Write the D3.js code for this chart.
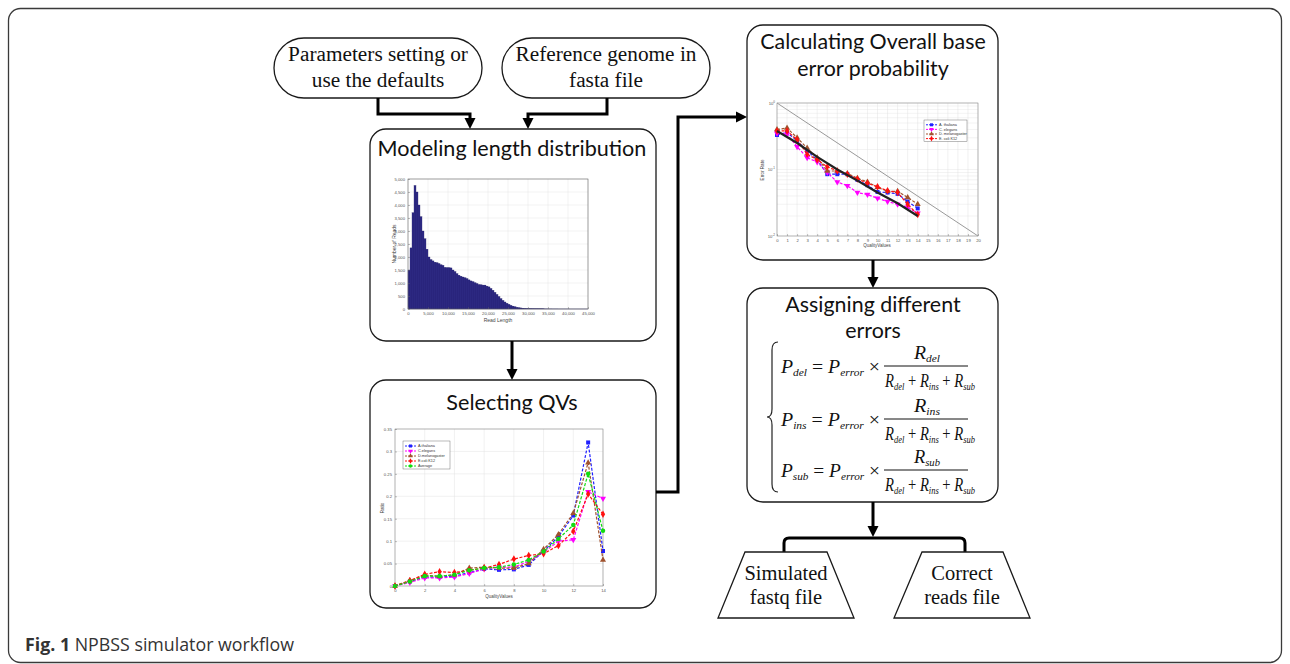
<!DOCTYPE html>
<html>
<head>
<meta charset="utf-8">
<script src="https://cdn.jsdelivr.net/npm/d3@7"></script>
<style>
  body { margin: 0; background: #fff; }
</style>
</head>
<body>
<div id="fig"></div>
<script>
// ---- data ----
const readLengthStep = 500;
const readCounts = [
  1500, 2350, 3700, 4750, 4500, 4000, 3550, 3000, 2700, 2300,
  2000, 1900, 1850, 1800, 1780, 1750, 1700, 1680, 1600, 1590,
  1590, 1580, 1500, 1440, 1360, 1300, 1260, 1230, 1200, 1170,
  1120, 1080, 1050, 1010, 980, 940, 930, 920, 920, 880,
  850, 790, 720, 640, 560, 480, 400, 330, 270, 220,
  180, 140, 110, 85, 65, 50, 40, 32, 25, 20,
  18, 15, 12, 10, 9, 8, 7, 6, 5, 5,
  4, 4, 3, 3, 3, 2, 2, 2, 2, 2,
  2, 1, 1, 1, 1, 1, 1, 1, 1, 1
];
const readTicks = [0, 5000, 10000, 15000, 20000, 25000, 30000, 35000, 40000, 45000];
const countTicks = [0, 500, 1000, 1500, 2000, 2500, 3000, 3500, 4000, 4500, 5000];

const qvValues = [0, 1, 2, 3, 4, 5, 6, 7, 8, 9, 10, 11, 12, 13, 14];
const qvNames = ["A.thaliana", "C.elegans", "D.melanogaster", "E.coli K12", "Average"];
const qvAthaliana = [0, 0.010, 0.020, 0.020, 0.022, 0.030, 0.038, 0.036, 0.037, 0.047, 0.078, 0.110, 0.157, 0.320, 0.078];
const qvCelegans = [0, 0.008, 0.018, 0.018, 0.020, 0.028, 0.038, 0.042, 0.042, 0.055, 0.075, 0.100, 0.103, 0.210, 0.195];
const qvDmelano = [0, 0.012, 0.024, 0.022, 0.025, 0.040, 0.042, 0.040, 0.040, 0.050, 0.082, 0.115, 0.162, 0.275, 0.058];
const qvEcoli = [0, 0.012, 0.026, 0.032, 0.030, 0.035, 0.040, 0.048, 0.060, 0.068, 0.072, 0.090, 0.122, 0.205, 0.160];
const qvAverage = [0, 0.010, 0.022, 0.022, 0.025, 0.035, 0.040, 0.042, 0.048, 0.058, 0.077, 0.105, 0.136, 0.250, 0.123];
const qvXTicks = [0, 2, 4, 6, 8, 10, 12, 14];
const ratioTicks = [0, 0.05, 0.1, 0.15, 0.2, 0.25, 0.3, 0.35];

const errNames = ["A. thaliana", "C. elegans", "D. melanogaster", "E. coli K12"];
const errAthaliana = [0.33, 0.36, 0.27, 0.19, 0.14, 0.085, 0.085, 0.085, 0.070, 0.058, 0.046, 0.045, 0.043, 0.033, 0.026];
const errCelegans = [0.35, 0.34, 0.22, 0.15, 0.13, 0.090, 0.065, 0.057, 0.045, 0.042, 0.037, 0.033, 0.030, 0.027, 0.022];
const errDmelano = [0.40, 0.42, 0.30, 0.21, 0.15, 0.095, 0.095, 0.087, 0.074, 0.065, 0.054, 0.047, 0.047, 0.038, 0.030];
const errEcoli = [0.38, 0.38, 0.28, 0.17, 0.14, 0.110, 0.095, 0.085, 0.072, 0.062, 0.055, 0.048, 0.045, 0.030, 0.021];
const fitQv = [0, 2, 4, 6, 8, 10, 12, 14];
const fitRate = [0.38, 0.25, 0.155, 0.10, 0.068, 0.045, 0.031, 0.020];
const phredQv = [0, 20];
const phredRate = [1, 0.01];
const errXTicks = [0, 1, 2, 3, 4, 5, 6, 7, 8, 9, 10, 11, 12, 13, 14, 15, 16, 17, 18, 19, 20];

// ---- drawing ----
const svg = d3.select("#fig").append("svg").attr("width", 1290).attr("height", 664);
svg.append("rect").attr("width", 1290).attr("height", 664).attr("fill", "#fff");

const serif = "'Liberation Serif','DejaVu Serif',serif";
const sans = "Lato,'Open Sans',sans-serif";
const tiny = "'Liberation Sans',Arial,sans-serif";

// outer frame
svg.append("rect")
  .attr("x", 8.5).attr("y", 8.5).attr("width", 1273).attr("height", 654)
  .attr("rx", 12).attr("fill", "none").attr("stroke", "#3a3a3a").attr("stroke-width", 1.3);

const box = (x, y, w, h) =>
  svg.append("rect").attr("x", x).attr("y", y).attr("width", w).attr("height", h)
    .attr("rx", 16).attr("fill", "#fff").attr("stroke", "#1a1a1a").attr("stroke-width", 1.3);

const lines = (cx, ys, texts, font, size) => {
  texts.forEach((t, i) => {
    svg.append("text").text(t).attr("x", cx).attr("y", ys[i])
      .attr("text-anchor", "middle").attr("font-family", font)
      .attr("font-size", size).attr("fill", "#111");
  });
};

const wire = (d) =>
  svg.append("path").attr("d", d).attr("fill", "none")
    .attr("stroke", "#000").attr("stroke-width", 3);

const arrowDown = (x, tipY) =>
  svg.append("path").attr("d", `M${x - 5.5},${tipY - 11}L${x + 5.5},${tipY - 11}L${x},${tipY}Z`).attr("fill", "#000");
const arrowRight = (tipX, y) =>
  svg.append("path").attr("d", `M${tipX - 11},${y - 5.5}L${tipX - 11},${y + 5.5}L${tipX},${y}Z`).attr("fill", "#000");

// input ovals
[[274, ["Parameters setting or", "use the defaults"]], [502, ["Reference genome in", "fasta file"]]].forEach(([x, t]) => {
  svg.append("rect").attr("x", x).attr("y", 38).attr("width", 208).attr("height", 60)
    .attr("rx", 30).attr("fill", "#fff").attr("stroke", "#1a1a1a").attr("stroke-width", 1.3);
  lines(x + 104, [61, 87], t, serif, 21.3);
});

wire("M378,98V114H470V120");
arrowDown(470, 129);
wire("M607,98V114H528V120");
arrowDown(528, 129);

// ---------- Modeling length distribution ----------
box(370, 129, 286, 212);
lines(512, [156], ["Modeling length distribution"], sans, 21.6);

const miniAxisText = (sel) => sel.selectAll("text").attr("font-family", tiny).attr("font-size", 4.2).attr("fill", "#555");

{
  const x = d3.scaleLinear().domain([0, 45000]).range([408, 588]);
  const y = d3.scaleLinear().domain([0, 5000]).range([309, 179]);
  const g = svg.append("g");
  g.append("rect").attr("x", 408).attr("y", 179).attr("width", 180).attr("height", 130).attr("fill", "#fff");
  countTicks.forEach((v) => g.append("line").attr("x1", 408).attr("x2", 588).attr("y1", y(v)).attr("y2", y(v))
    .attr("stroke", "#e4e4e4").attr("stroke-width", 0.5));
  readTicks.forEach((v) => g.append("line").attr("x1", x(v)).attr("x2", x(v)).attr("y1", 179).attr("y2", 309)
    .attr("stroke", "#e4e4e4").attr("stroke-width", 0.5));
  g.selectAll(".bar").data(readCounts).join("rect")
    .attr("x", (d, i) => x(i * readLengthStep))
    .attr("width", x(readLengthStep) - x(0))
    .attr("y", (d) => y(d))
    .attr("height", (d) => y(0) - y(d))
    .attr("fill", "#2f2c88").attr("stroke", "#1b1960").attr("stroke-width", 0.3);
  g.append("rect").attr("x", 408).attr("y", 179).attr("width", 180).attr("height", 130)
    .attr("fill", "none").attr("stroke", "#666").attr("stroke-width", 0.6);
  g.append("g").attr("transform", "translate(0,309)")
    .call(d3.axisBottom(x).tickValues(readTicks).tickFormat(d3.format(",")).tickSizeInner(-2).tickSizeOuter(0).tickPadding(3))
    .call((a) => a.select(".domain").remove())
    .call((a) => a.selectAll("line").attr("stroke", "#666").attr("stroke-width", 0.4))
    .call(miniAxisText);
  g.append("g").attr("transform", "translate(408,0)")
    .call(d3.axisLeft(y).tickValues(countTicks).tickSizeInner(-2).tickSizeOuter(0).tickPadding(3))
    .call((a) => a.select(".domain").remove())
    .call((a) => a.selectAll("line").attr("stroke", "#666").attr("stroke-width", 0.4))
    .call(miniAxisText);
  g.append("text").text("Read Length").attr("x", 498).attr("y", 322).attr("text-anchor", "middle")
    .attr("font-family", tiny).attr("font-size", 5).attr("fill", "#444");
  g.append("text").text("Number of Reads").attr("transform", "translate(396,244) rotate(-90)")
    .attr("text-anchor", "middle").attr("font-family", tiny).attr("font-size", 5).attr("fill", "#444");
}

wire("M512,341V371");
arrowDown(512, 380);

// ---------- Selecting QVs ----------
box(370, 380, 286, 228);
lines(512, [410], ["Selecting QVs"], sans, 21.6);

const seriesStyle = [
  { color: "#2020ff", symbol: d3.symbolSquare, rot: 0 },
  { color: "#ff00ff", symbol: d3.symbolTriangle, rot: 180 },
  { color: "#a0522d", symbol: d3.symbolTriangle, rot: 0 },
  { color: "#ff1010", symbol: d3.symbolDiamond, rot: 0 },
  { color: "#10dd10", symbol: d3.symbolCircle, rot: 0 },
];

const drawSeries = (g, x, y, xs, ys, st, msize) => {
  const pts = xs.map((v, i) => [x(v), y(ys[i])]);
  g.append("path").attr("d", d3.line()(pts)).attr("fill", "none")
    .attr("stroke", st.color).attr("stroke-width", 1.2).attr("stroke-dasharray", "3,1.6");
  pts.forEach((p) => g.append("path")
    .attr("d", d3.symbol().type(st.symbol).size(msize)())
    .attr("transform", `translate(${p[0]},${p[1]}) rotate(${st.rot})`)
    .attr("fill", st.color));
};

const drawLegend = (g, x0, y0, w, names, rowH) => {
  g.append("rect").attr("x", x0).attr("y", y0).attr("width", w).attr("height", names.length * rowH + 3)
    .attr("fill", "#fff").attr("stroke", "#555").attr("stroke-width", 0.4);
  names.forEach((n, i) => {
    const yy = y0 + 2.5 + rowH * (i + 0.5);
    const st = seriesStyle[i];
    g.append("line").attr("x1", x0 + 2).attr("x2", x0 + 13).attr("y1", yy).attr("y2", yy)
      .attr("stroke", st.color).attr("stroke-width", 1).attr("stroke-dasharray", "2,1");
    g.append("path").attr("d", d3.symbol().type(st.symbol).size(9)())
      .attr("transform", `translate(${x0 + 7.5},${yy}) rotate(${st.rot})`).attr("fill", st.color);
    g.append("text").text(n).attr("x", x0 + 15).attr("y", yy + 1.4)
      .attr("font-family", tiny).attr("font-size", 3.8).attr("fill", "#333");
  });
};

{
  const x = d3.scaleLinear().domain([0, 14]).range([395, 603]);
  const y = d3.scaleLinear().domain([0, 0.35]).range([586, 429]);
  const g = svg.append("g");
  ratioTicks.forEach((v) => g.append("line").attr("x1", 395).attr("x2", 603).attr("y1", y(v)).attr("y2", y(v))
    .attr("stroke", "#e2e2e2").attr("stroke-width", 0.5));
  qvXTicks.forEach((v) => g.append("line").attr("x1", x(v)).attr("x2", x(v)).attr("y1", 429).attr("y2", 586)
    .attr("stroke", "#e2e2e2").attr("stroke-width", 0.5));
  g.append("rect").attr("x", 395).attr("y", 429).attr("width", 208).attr("height", 157)
    .attr("fill", "none").attr("stroke", "#777").attr("stroke-width", 0.5);
  [qvAthaliana, qvCelegans, qvDmelano, qvEcoli, qvAverage].forEach((s, i) =>
    drawSeries(g, x, y, qvValues, s, seriesStyle[i], 16));
  g.append("g").attr("transform", "translate(0,586)")
    .call(d3.axisBottom(x).tickValues(qvXTicks).tickSizeInner(-2).tickSizeOuter(0).tickPadding(3))
    .call((a) => a.select(".domain").remove())
    .call((a) => a.selectAll("line").attr("stroke", "#666").attr("stroke-width", 0.4))
    .call(miniAxisText);
  g.append("g").attr("transform", "translate(395,0)")
    .call(d3.axisLeft(y).tickValues(ratioTicks).tickFormat((d) => (d === 0 ? "0" : String(+d.toFixed(2)))).tickSizeInner(-2).tickSizeOuter(0).tickPadding(3))
    .call((a) => a.select(".domain").remove())
    .call((a) => a.selectAll("line").attr("stroke", "#666").attr("stroke-width", 0.4))
    .call(miniAxisText);
  g.append("text").text("QualityValues").attr("x", 499).attr("y", 598).attr("text-anchor", "middle")
    .attr("font-family", tiny).attr("font-size", 4.5).attr("fill", "#444");
  g.append("text").text("Ratio").attr("transform", "translate(384,508) rotate(-90)")
    .attr("text-anchor", "middle").attr("font-family", tiny).attr("font-size", 4.5).attr("fill", "#444");
  drawLegend(g, 403, 441, 47, qvNames, 5);
}

// connector to the right column
wire("M656,492H678V117H737");
arrowRight(747, 117);

// ---------- Calculating Overall base error probability ----------
box(747, 25, 251, 235);
lines(873, [49, 76], ["Calculating Overall base", "error probability"], sans, 21.4);

{
  const x = d3.scaleLinear().domain([0, 20]).range([777, 978]);
  const y = d3.scaleLog().domain([0.01, 1]).range([236, 103]);
  const g = svg.append("g");
  y.ticks().forEach((v) => g.append("line").attr("x1", 777).attr("x2", 978).attr("y1", y(v)).attr("y2", y(v))
    .attr("stroke", "#e6e6e6").attr("stroke-width", 0.5));
  errXTicks.forEach((v) => g.append("line").attr("x1", x(v)).attr("x2", x(v)).attr("y1", 103).attr("y2", 236)
    .attr("stroke", "#e2e2e2").attr("stroke-width", 0.5));
  g.append("rect").attr("x", 777).attr("y", 103).attr("width", 201).attr("height", 133)
    .attr("fill", "none").attr("stroke", "#777").attr("stroke-width", 0.5);
  g.append("path").attr("d", d3.line()(phredQv.map((v, i) => [x(v), y(phredRate[i])])))
    .attr("fill", "none").attr("stroke", "#9a9a9a").attr("stroke-width", 1);
  [errAthaliana, errCelegans, errDmelano, errEcoli].forEach((s, i) =>
    drawSeries(g, x, y, qvValues, s, seriesStyle[i], 16));
  g.append("path").attr("d", d3.line()(fitQv.map((v, i) => [x(v), y(fitRate[i])])))
    .attr("fill", "none").attr("stroke", "#222").attr("stroke-width", 2.2);
  g.append("g").attr("transform", "translate(0,236)")
    .call(d3.axisBottom(x).tickValues(errXTicks).tickSizeInner(-2).tickSizeOuter(0).tickPadding(3))
    .call((a) => a.select(".domain").remove())
    .call((a) => a.selectAll("line").attr("stroke", "#666").attr("stroke-width", 0.4))
    .call(miniAxisText);
  [1, 0.1, 0.01].forEach((v) => {
    const t = g.append("text").attr("x", 775).attr("y", y(v) + 1.5).attr("text-anchor", "end")
      .attr("font-family", tiny).attr("font-size", 4.2).attr("fill", "#555");
    t.append("tspan").text("10");
    t.append("tspan").text(String(Math.round(Math.log10(v)))).attr("dy", -2).attr("font-size", 3);
  });
  g.append("text").text("QualityValues").attr("x", 877).attr("y", 247).attr("text-anchor", "middle")
    .attr("font-family", tiny).attr("font-size", 4.5).attr("fill", "#444");
  g.append("text").text("Error Rate").attr("transform", "translate(764,170) rotate(-90)")
    .attr("text-anchor", "middle").attr("font-family", tiny).attr("font-size", 4.5).attr("fill", "#444");
  drawLegend(g, 924, 120, 43, errNames, 4.6);
}

wire("M873,260V279");
arrowDown(873, 288);

// ---------- Assigning different errors ----------
box(747, 288, 251, 214);
lines(873, [312, 338], ["Assigning different", "errors"], sans, 21.4);

// equation text: laid out naturally, then squeezed horizontally to the width seen in the figure
const mathText = (x, y, parts, anchor, width) => {
  const g = svg.append("g");
  const t = g.append("text").attr("x", 0).attr("y", 0).attr("text-anchor", anchor || "start")
    .attr("font-family", serif).attr("font-size", 19).attr("fill", "#111");
  parts.forEach(([s, kind]) => {
    const sp = t.append("tspan").text(s);
    if (kind === "v") sp.attr("font-style", "italic");
    if (kind === "s") sp.attr("font-style", "italic").attr("font-size", 11).attr("dy", 3);
    if (kind === "o") sp.attr("dy", -3);
  });
  const natural = t.node().getComputedTextLength();
  const sx = width && natural ? width / natural : 1;
  g.attr("transform", `translate(${x},${y}) scale(${sx},1)`);
  return g;
};

const eqSubs = ["del", "ins", "sub"];
const barYs = [366, 419, 470];
eqSubs.forEach((sub, i) => {
  const by = barYs[i];
  mathText(781, by + 7, [["P", "v"], [sub, "s"], ["\u00a0=\u00a0", "o"], ["P", "v"], ["error", "s"], ["\u00a0\u00d7", "o"]], "start", 99);
  svg.append("line").attr("x1", 884).attr("x2", 968).attr("y1", by).attr("y2", by)
    .attr("stroke", "#111").attr("stroke-width", 1);
  mathText(927, by - 7, [["R", "v"], [sub, "s"]], "middle", 26);
  mathText(930, by + 21, [["R", "v"], ["del", "s"], ["\u00a0+\u00a0", "o"], ["R", "v"], ["ins", "s"], ["\u00a0+\u00a0", "o"], ["R", "v"], ["sub", "s"]], "middle", 90);
});

svg.append("path")
  .attr("d", "M778,342Q772,342 772,350V409Q772,417 767,417Q772,417 772,425V484Q772,492 778,492")
  .attr("fill", "none").attr("stroke", "#222").attr("stroke-width", 1.2);

wire("M873,502V527");
arrowDown(873, 537);
wire("M784,552V543Q784,538 789,538H960Q965,538 965,543V552");

// ---------- outputs ----------
[[745, 827, 718, 854, ["Simulated", "fastq file"]], [922, 1003, 894, 1030, ["Correct", "reads file"]]].forEach(([a, b, c, d, t]) => {
  svg.append("path").attr("d", `M${a},552L${b},552L${d},618L${c},618Z`)
    .attr("fill", "#fff").attr("stroke", "#1a1a1a").attr("stroke-width", 1.3);
  lines((c + d) / 2, [580, 604], t, serif, 20.5);
});

// caption
const cap = svg.append("text").attr("x", 25).attr("y", 651)
  .attr("font-family", "'Open Sans',sans-serif").attr("font-size", 17.8).attr("fill", "#333");
cap.append("tspan").text("Fig. 1").attr("font-weight", "bold");
cap.append("tspan").text(" NPBSS simulator workflow");
</script>
</body>
</html>
